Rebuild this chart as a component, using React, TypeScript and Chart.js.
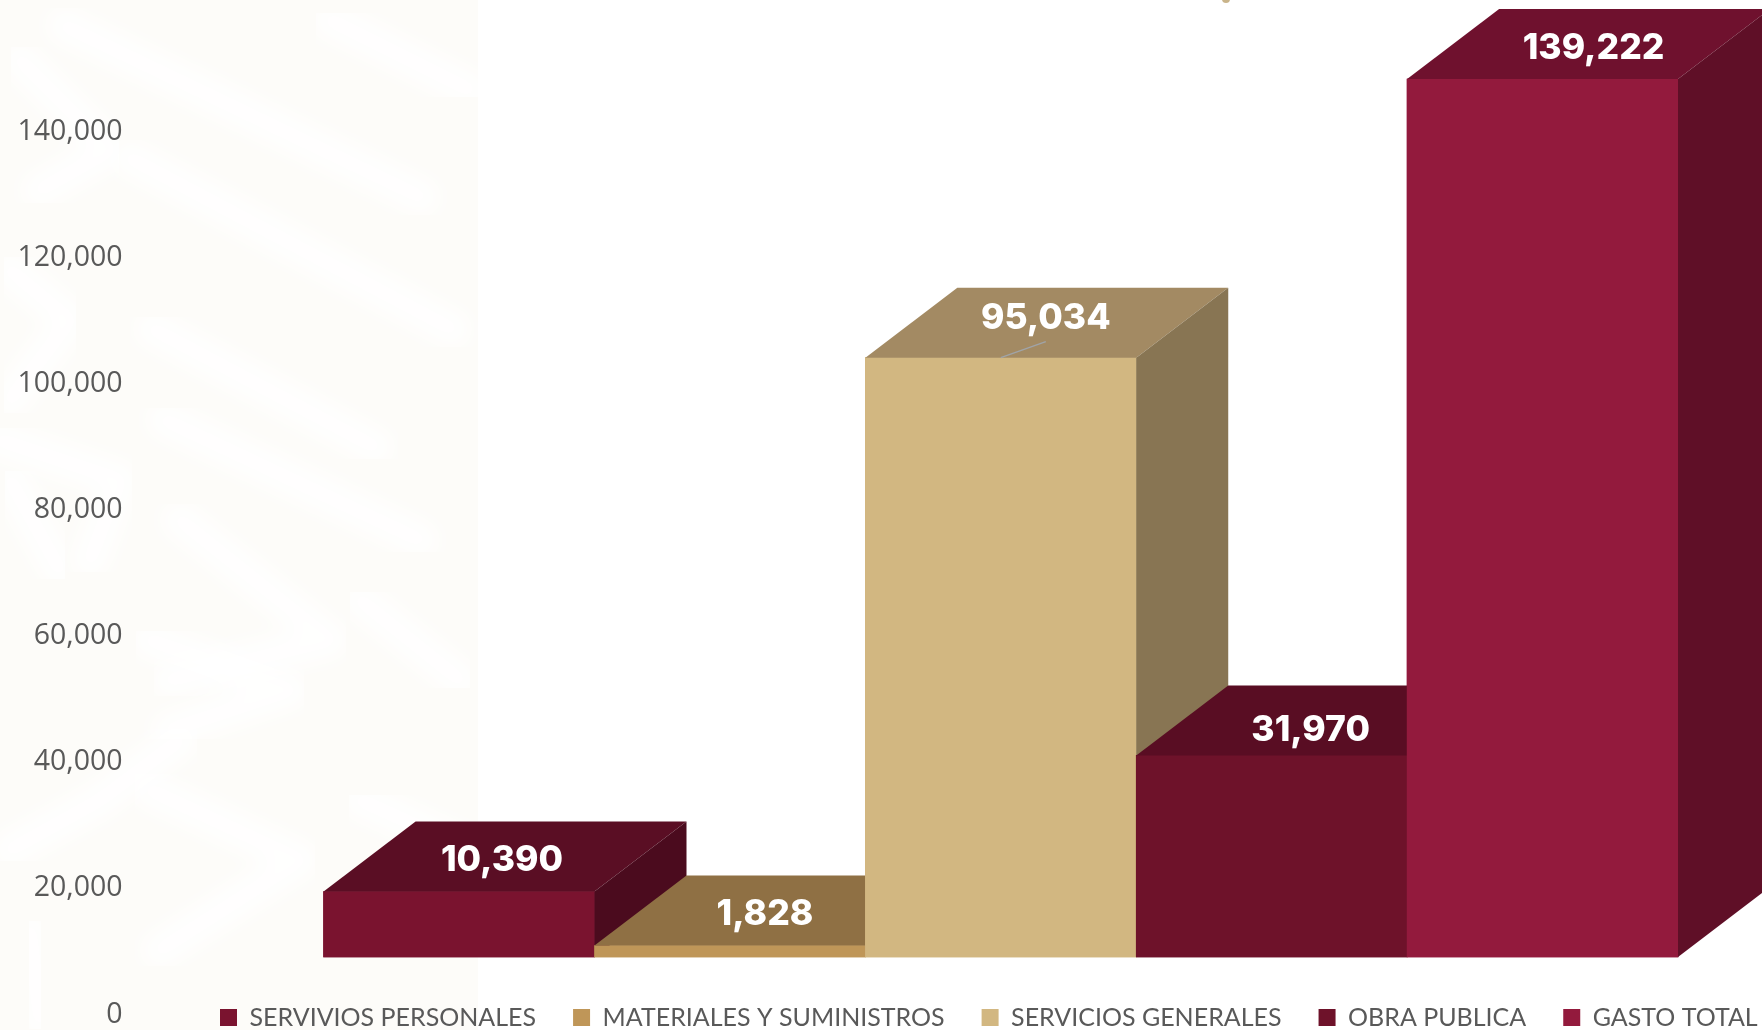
import React, { useEffect, useRef } from "react";
import { Chart, registerables } from "chart.js";

Chart.register(...registerables);

const categories = ["Gasto"];
const seriesNames = ["SERVIVIOS PERSONALES", "MATERIALES Y SUMINISTROS", "SERVICIOS GENERALES", "OBRA PUBLICA", "GASTO TOTAL"];
const seriesValues = [10390, 1828, 95034, 31970, 139222];
const seriesLabels = ["10,390", "1,828", "95,034", "31,970", "139,222"];
const tickValues = [0, 20000, 40000, 60000, 80000, 100000, 120000, 140000];
const frontColors = ["#7a132f", "#bf9658", "#d2b781", "#6e122a", "#931a3d"];
const topColors = ["#5a0e24", "#8f7044", "#a38a63", "#590d23", "#6f112e"];
const sideColors = ["#4b0b1e", "#7a5f3a", "#887553", "#4a0b1e", "#5f0f27"];
const labelOffsetX = [43, 35, 45, 39, 51];
const labelOffsetY = [-31, -31, -39, -25, -31];

const DEPTH_X = 92;
const DEPTH_Y = 70;
const AXIS_MAX = 150000;
const BAR_AXIS_MIN = -9100;

const bands = [
  "M65 26 L421 197", "M20 60 L110 150 L40 190", "M130 158 L452 329", "M153 329 L375 447", "M165 420 L420 540",
  "M180 520 L330 640 L170 680", "M10 270 L70 320 L10 400", "M0 440 L120 480 L90 560", "M10 480 L60 570", "M150 640 L290 690 L170 730",
  "M150 790 L300 860 L160 950", "M10 850 L100 800 L180 740", "M30 930 L40 1020", "M330 20 L470 90", "M360 600 L460 680", "M360 800 L470 850",
];

const depthPlugin = {
  id: "depth3d",
  beforeLayout(chart: any) {
    const legend = chart.legend;
    if (legend && !legend.__patched) {
      const fit = legend.fit.bind(legend);
      legend.fit = () => {
        fit();
        legend.height = 15.6;
      };
      legend.__patched = true;
    }
  },
  afterLayout(chart: any) {
    const legend = chart.legend;
    const pad = legend.options.labels.padding;
    legend.left = 220 - pad;
    legend.right = 1900;
    legend.top = 1017 - 12 - pad;
    legend.bottom = 1030;
  },
  afterDatasetsDraw(chart: any) {
    const { ctx } = chart;
    seriesValues.forEach((_, i) => {
      const bar = chart.getDatasetMeta(i).data[0];
      bar.draw(ctx);
      const l = bar.x - bar.width / 2;
      const r = bar.x + bar.width / 2;
      const t = bar.y;
      const b = bar.base;
      ctx.save();
      ctx.fillStyle = topColors[i];
      ctx.beginPath();
      ctx.moveTo(l, t);
      ctx.lineTo(l + DEPTH_X, t - DEPTH_Y);
      ctx.lineTo(r + DEPTH_X, t - DEPTH_Y);
      ctx.lineTo(r, t);
      ctx.closePath();
      ctx.fill();
      ctx.fillStyle = sideColors[i];
      ctx.beginPath();
      ctx.moveTo(r, t);
      ctx.lineTo(r + DEPTH_X, t - DEPTH_Y);
      ctx.lineTo(r + DEPTH_X, b - DEPTH_Y);
      ctx.lineTo(r, b);
      ctx.closePath();
      ctx.fill();
      ctx.restore();
    });
    ctx.save();
    ctx.font = "800 35.5px Inter, 'Open Sans', sans-serif";
    ctx.fillStyle = "#ffffff";
    ctx.textAlign = "center";
    ctx.textBaseline = "middle";
    seriesValues.forEach((_, i) => {
      const bar = chart.getDatasetMeta(i).data[0];
      const x = bar.x + labelOffsetX[i];
      const y = bar.y + labelOffsetY[i];
      ctx.fillText(seriesLabels[i], x, y);
      if (i === 2) {
        ctx.strokeStyle = "#a0a4a8";
        ctx.lineWidth = 1.5;
        ctx.beginPath();
        ctx.moveTo(bar.x, bar.y);
        ctx.lineTo(x, y + 23);
        ctx.stroke();
      }
    });
    ctx.restore();
  },
};

export default function App() {
  const ref = useRef<HTMLCanvasElement | null>(null);
  useEffect(() => {
    if (!ref.current) return;
    const chart = new Chart(ref.current, {
      type: "bar",
      data: {
        labels: categories,
        datasets: seriesNames.map((name, i) => ({
          label: name,
          data: [seriesValues[i]],
          backgroundColor: frontColors[i],
          borderWidth: 0,
          yAxisID: "bars",
          clip: false as any,
          categoryPercentage: 1,
          barPercentage: 1,
        })),
      },
      options: {
        responsive: false,
        animation: false,
        layout: { padding: { top: 68.4, right: 84, left: 0, bottom: 0 } },
        scales: {
          x: { display: false, grid: { display: false } },
          y: {
            position: "left",
            min: 0,
            max: AXIS_MAX,
            afterBuildTicks(scale: any) {
              scale.ticks = tickValues.map((value) => ({ value }));
            },
            afterFit(scale: any) {
              scale.width = 323.6;
            },
            border: { display: false },
            grid: { display: false, drawTicks: true, tickLength: 201 },
            ticks: {
              padding: 0,
              color: "#595959",
              font: { family: "'Open Sans'", size: 28.5, lineHeight: 1 },
              callback: (v: any) => Number(v).toLocaleString("en-US"),
            },
          },
          bars: {
            display: false,
            position: "left",
            min: BAR_AXIS_MIN,
            max: AXIS_MAX + BAR_AXIS_MIN,
            grid: { display: false },
          },
        },
        plugins: {
          tooltip: { enabled: false },
          legend: {
            position: "bottom",
            align: "start",
            labels: {
              boxWidth: 17,
              boxHeight: 17,
              padding: 37,
              color: "#595959",
              font: { family: "Lato, 'Open Sans'", size: 25 },
            },
          },
        },
      } as any,
      plugins: [depthPlugin as any],
    });
    return () => chart.destroy();
  }, []);
  return (
    <div style={{ position: "fixed", left: 0, top: 0, width: 1762, height: 1030, overflow: "hidden", background: "#ffffff" }}>
      <svg width={1762} height={1030} style={{ position: "absolute", left: 0, top: 0 }}>
        <defs>
          <filter id="soft"><feGaussianBlur stdDeviation="9" /></filter>
        </defs>
        <rect x={0} y={0} width={478} height={1030} fill="#fdfcf9" />
        {bands.map((d) => (
          <path key={d} d={d} fill="none" stroke="#ffffff" strokeWidth={34} strokeOpacity={0.85} strokeLinecap="round" strokeLinejoin="round" filter="url(#soft)" />
        ))}
        <circle cx={1226} cy={-1} r={4} fill="#c9b48a" />
      </svg>
      <canvas ref={ref} width={1762} height={1030} style={{ position: "absolute", left: 0, top: 0, display: "block" }} />
    </div>
  );
}
